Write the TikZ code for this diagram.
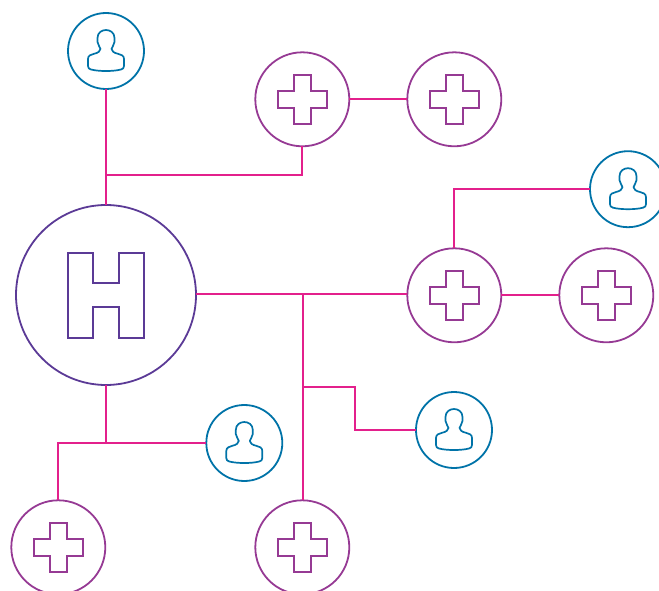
\documentclass[tikz,border=0pt]{standalone}
\definecolor{hblue}{HTML}{0073A8}
\definecolor{hpurple}{HTML}{963A94}
\definecolor{hviolet}{HTML}{5B3A96}
\definecolor{hpink}{HTML}{E3208C}
\tikzset{
  x=1pt,y=-1pt,
  hospital/.style={circle,draw=hviolet,line width=1.8pt,minimum size=180pt,inner sep=0pt,outer sep=0pt},
  clinic/.style={circle,draw=hpurple,line width=1.8pt,minimum size=94pt,inner sep=0pt,outer sep=0pt},
  person/.style={circle,draw=hblue,line width=1.8pt,minimum size=76pt,inner sep=0pt,outer sep=0pt},
  link/.style={draw=hpink,line width=1.8pt},
  plussign/.pic={\draw[hpurple,line width=1.8pt]
    (-8.5,-24.5)--(8.5,-24.5)--(8.5,-8.5)--(24.5,-8.5)--(24.5,8.5)--(8.5,8.5)--(8.5,24.5)--(-8.5,24.5)--(-8.5,8.5)--(-24.5,8.5)--(-24.5,-8.5)--(-8.5,-8.5)--cycle;},
  hsign/.pic={\draw[hviolet,line width=1.8pt]
    (-38,-42)--(-13,-42)--(-13,-12)--(13,-12)--(13,-42)--(38,-42)--(38,43)--(13,43)--(13,12)--(-13,12)--(-13,43)--(-38,43)--cycle;},
  personsign/.pic={\draw[hblue,line width=1.7pt,line join=round]
    (0,20) .. controls (-6,20) and (-11,19.5) .. (-15,18.5)
    .. controls (-17,18) and (-18,17) .. (-18,15)
    -- (-18,8) .. controls (-18,4.5) and (-15,3.5) .. (-12,2.8)
    .. controls (-8,2) and (-5.5,0) .. (-5.5,-2)
    .. controls (-5.5,-4) and (-8.5,-6) .. (-8.5,-9)
    -- (-8.5,-13) .. controls (-8.5,-18.5) and (-4,-21) .. (0,-21)
    .. controls (4,-21) and (8.5,-18.5) .. (8.5,-13)
    -- (8.5,-9) .. controls (8.5,-6) and (5.5,-4) .. (5.5,-2)
    .. controls (5.5,0) and (8,2) .. (12,2.8)
    .. controls (15,3.5) and (18,4.5) .. (18,8)
    -- (18,15) .. controls (18,17) and (17,18) .. (15,18.5)
    .. controls (11,19.5) and (6,20) .. (0,20) -- cycle;}
}
\begin{document}
\begin{tikzpicture}
\useasboundingbox (0,0) rectangle (659,591);
\clip (0,0) rectangle (659,591);
% nodes
\node[hospital] (H) at (106,295) {};
\node[person] (pa) at (106,51) {};
\node[person] (pb) at (628,189.2) {};
\node[person] (pc) at (454,430) {};
\node[person] (pd) at (244.3,443) {};
\node[clinic] (ca) at (302.3,99.3) {};
\node[clinic] (cb) at (454.3,99.3) {};
\node[clinic] (cc) at (454.3,295.3) {};
\node[clinic] (cd) at (606.3,295.3) {};
\node[clinic] (ce) at (58.3,547.3) {};
\node[clinic] (cf) at (302.3,547.3) {};
% icons
\pic at (H) {hsign};
\foreach \n in {pa,pb,pc,pd} \pic at (\n) {personsign};
\foreach \n in {ca,cb,cc,cd,ce,cf} \pic at (\n) {plussign};
% junctions
\coordinate (ja) at (106,174.8);
\coordinate (jb) at (303,294);
\coordinate (jc) at (303,387);
\coordinate (jd) at (106,443);
% connectors
\draw[link] (pa.south) -- (H.north);
\draw[link] (ja) -- (ja -| ca.south) -- (ca.south);
\draw[link] (ca.east) -- (cb.west);
\draw[link] (H.east |- jb) -- (cc.west |- jb);
\draw[link] (cc.east) -- (cd.west);
\draw[link] (cc.north) -- (cc.north |- pb.west) -- (pb.west);
\draw[link] (jb) -- (jb |- cf.north);
\draw[link] (jc) -- (355,387) -- (355,430) -- (pc.west);
\draw[link] (H.south) -- (jd);
\draw[link] (pd.west) -- (ce.north |- pd.west) -- (ce.north);
\end{tikzpicture}
\end{document}
